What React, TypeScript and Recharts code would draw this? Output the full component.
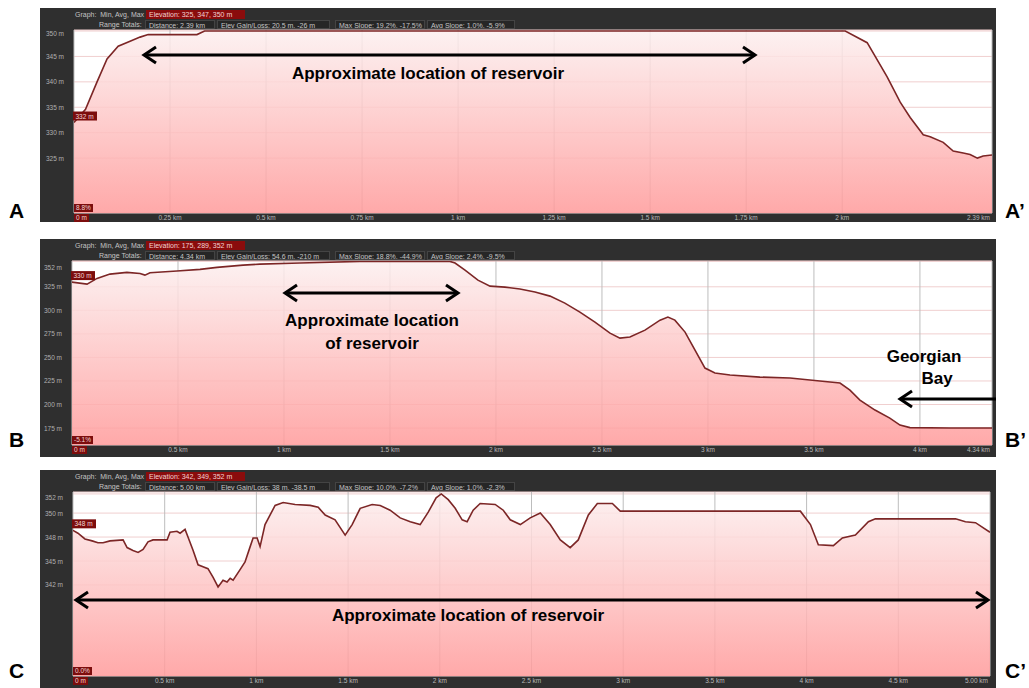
import React from 'react';
import { Area, AreaChart, CartesianGrid, ReferenceDot, XAxis, YAxis } from 'recharts';

// A - A' profile (distance in km, elevation in m)
const aDistKm = [0, 0.03, 0.06, 0.086, 0.115, 0.146, 0.172, 0.193, 0.32, 0.34, 0.7, 1.1, 1.5, 1.8, 2.008, 2.065, 2.117, 2.151, 2.177, 2.211, 2.229, 2.263, 2.289, 2.315, 2.333, 2.352, 2.367, 2.39];
const aElevM = [332, 334.6, 340, 344.5, 347, 348, 348.8, 349.3, 349.3, 350, 350, 350, 350, 350, 350, 347.7, 341, 336, 333, 329.6, 329.2, 328.1, 326.4, 326, 325.7, 325, 325.4, 325.6];
const aXTicks = [0.25, 0.5, 0.75, 1, 1.25, 1.5, 1.75, 2, 2.39];
const aXLabels = ['0.25 km', '0.5 km', '0.75 km', '1 km', '1.25 km', '1.5 km', '1.75 km', '2 km', '2.39 km'];
const aYTicks = [350, 345, 340, 335, 330, 325];
const aYLabels = ['350 m', '345 m', '340 m', '335 m', '330 m', '325 m'];
const aHeader = ['Elevation: 325, 347, 350 m', 'Distance: 2.39 km', 'Elev Gain/Loss: 20.5 m, -26 m', 'Max Slope: 19.2%, -17.5%', 'Avg Slope: 1.0%, -5.9%'];

// B - B' profile
const bDistKm = [0, 0.071, 0.118, 0.179, 0.259, 0.321, 0.344, 0.368, 0.495, 0.604, 0.684, 0.807, 0.887, 1.075, 1.358, 1.783, 1.807, 1.854, 1.915, 1.972, 2.042, 2.113, 2.184, 2.255, 2.325, 2.396, 2.467, 2.538, 2.585, 2.632, 2.703, 2.774, 2.811, 2.844, 2.892, 2.939, 2.986, 3.033, 3.104, 3.245, 3.387, 3.528, 3.623, 3.67, 3.717, 3.788, 3.858, 3.906, 3.953, 4.142, 4.34];
const bElevM = [330, 327.9, 333.9, 338.5, 340.3, 339.2, 337.4, 339.9, 341.7, 343.5, 345.6, 348, 349.1, 350.2, 352, 352, 350.2, 342.7, 332.1, 325.7, 324.7, 322.6, 319.4, 315.1, 307.7, 298.1, 287.5, 275.8, 270.5, 271.6, 279, 289.6, 292.8, 289.6, 276.9, 257.8, 238.7, 233.4, 231.3, 229.1, 228.1, 224.9, 222.8, 215.3, 204.7, 194.1, 185.6, 178.2, 175.5, 175, 175];
const bXTicks = [0.5, 1, 1.5, 2, 2.5, 3, 3.5, 4, 4.34];
const bXLabels = ['0.5 km', '1 km', '1.5 km', '2 km', '2.5 km', '3 km', '3.5 km', '4 km', '4.34 km'];
const bYTicks = [352, 325, 300, 275, 250, 225, 200, 175];
const bYLabels = ['352 m', '325 m', '300 m', '275 m', '250 m', '225 m', '200 m', '175 m'];
const bHeader = ['Elevation: 175, 289, 352 m', 'Distance: 4.34 km', 'Elev Gain/Loss: 54.6 m, -210 m', 'Max Slope: 18.8%, -44.9%', 'Avg Slope: 2.4%, -9.5%'];

// C - C' profile
const cDistKm = [0, 0.027, 0.065, 0.104, 0.136, 0.164, 0.202, 0.273, 0.295, 0.327, 0.355, 0.382, 0.409, 0.436, 0.513, 0.529, 0.567, 0.584, 0.611, 0.627, 0.655, 0.682, 0.709, 0.736, 0.764, 0.791, 0.818, 0.84, 0.857, 0.873, 0.911, 0.938, 0.966, 0.982, 1.004, 1.02, 1.047, 1.102, 1.146, 1.211, 1.293, 1.337, 1.375, 1.429, 1.484, 1.522, 1.566, 1.631, 1.675, 1.729, 1.784, 1.839, 1.893, 1.937, 1.98, 2.008, 2.046, 2.084, 2.122, 2.149, 2.182, 2.22, 2.302, 2.346, 2.384, 2.439, 2.493, 2.548, 2.602, 2.657, 2.711, 2.755, 2.81, 2.859, 2.941, 2.984, 3.966, 4.021, 4.064, 4.146, 4.195, 4.266, 4.337, 4.375, 4.812, 4.866, 4.921, 5];
const cElevM = [348.2, 347.9, 347.3, 347.1, 346.9, 346.9, 347.1, 347.2, 346.4, 346.1, 345.9, 346.2, 347, 347.2, 347.2, 348, 348.1, 347.9, 348.3, 347.5, 346.1, 344.6, 344.4, 344.2, 343.3, 342.3, 343, 342.8, 343.2, 343, 344.1, 344.9, 346.5, 347.4, 347.4, 346.5, 348.8, 350.8, 351.1, 350.9, 350.8, 350.6, 349.8, 349.3, 347.7, 348.8, 350.5, 350.9, 350.8, 350.3, 349.5, 349.1, 348.8, 350.1, 351.6, 352, 351.4, 350.5, 349.3, 349.1, 350.3, 351, 350.9, 350.3, 349.3, 348.8, 349.5, 350, 348.8, 347.2, 346.4, 347.2, 349.8, 351, 351, 350.2, 350.2, 348.8, 346.7, 346.6, 347.4, 347.7, 349.1, 349.4, 349.4, 349.1, 349, 348];
const cXTicks = [0.5, 1, 1.5, 2, 2.5, 3, 3.5, 4, 4.5, 5];
const cXLabels = ['0.5 km', '1 km', '1.5 km', '2 km', '2.5 km', '3 km', '3.5 km', '4 km', '4.5 km', '5.00 km'];
const cYTicks = [352, 350, 347.5, 345, 342.5];
const cYLabels = ['352 m', '350 m', '348 m', '345 m', '342 m'];
const cHeader = ['Elevation: 342, 349, 352 m', 'Distance: 5.00 km', 'Elev Gain/Loss: 38 m, -38.5 m', 'Max Slope: 10.0%, -7.2%', 'Avg Slope: 1.0%, -2.3%'];

const FRAME_L = 40;
const FRAME_R = 996;
const UI_FONT = '"Liberation Sans", Arial, sans-serif';

type PanelProps = {
  id: string;
  top: number;
  height: number;
  plotLeft: number;
  plotRight: number;
  axisHeight: number;
  dist: number[];
  elev: number[];
  xMax: number;
  xTicks: number[];
  xLabels: string[];
  yDomain: [number, number];
  yTicks: number[];
  yLabels: string[];
  topShift: number;
  header: string[];
  slope: string;
};

const HeaderBox = ({ left, width, text, red }: { left: number; width: number; text: string; red?: boolean }) => (
  <div
    style={{
      position: 'absolute',
      left,
      width,
      top: red ? 2 : 12,
      height: 9,
      lineHeight: '9px',
      paddingLeft: 3,
      boxSizing: 'border-box',
      background: red ? '#8a0c0c' : '#262626',
      border: red ? 'none' : '1px solid #444',
      color: red ? '#f3d2d2' : '#c4c4c4',
      whiteSpace: 'nowrap',
      overflow: 'hidden',
    }}
  >
    {text}
  </div>
);

const Tag = ({ left, top, text }: { left: number; top: number; text: string }) => (
  <div
    style={{
      position: 'absolute',
      left,
      top,
      height: 8,
      lineHeight: '8px',
      padding: '0 2px',
      background: '#7c0d0d',
      color: '#f1d4d4',
      fontSize: 6.5,
      whiteSpace: 'nowrap',
    }}
  >
    {text}
  </div>
);

const Panel = (p: PanelProps) => {
  const data = p.dist.map((km, i) => ({ km, elev: p.elev[i] }));
  const width = FRAME_R - FRAME_L;
  const plotBottom = p.height - p.axisHeight;
  const last = p.xTicks[p.xTicks.length - 1];

  return (
    <div
      style={{
        position: 'absolute',
        left: FRAME_L,
        top: p.top,
        width,
        height: p.height,
        background: '#2f2f2f',
        fontFamily: UI_FONT,
        fontSize: 7,
      }}
    >
      <div style={{ position: 'absolute', left: 35, top: 2, lineHeight: '9px', color: '#c4c4c4' }}>
        Graph:&nbsp; Min, Avg, Max
      </div>
      <HeaderBox left={106} width={99} text={p.header[0]} red />
      <div style={{ position: 'absolute', left: 59, top: 12, lineHeight: '9px', color: '#c4c4c4' }}>Range Totals:</div>
      <HeaderBox left={105} width={70} text={p.header[1]} />
      <HeaderBox left={177} width={113} text={p.header[2]} />
      <HeaderBox left={295} width={90} text={p.header[3]} />
      <HeaderBox left={387} width={88} text={p.header[4]} />

      <AreaChart
        width={width}
        height={p.height}
        data={data}
        margin={{ top: 22, right: FRAME_R - p.plotRight, bottom: 0, left: 0 }}
        style={{ position: 'absolute', left: 0, top: 0 }}
      >
        <defs>
          <linearGradient id={`fill-${p.id}`} x1="0" y1="0" x2="0" y2="1">
            <stop offset="0%" stopColor="#fcefef" stopOpacity={0.85} />
            <stop offset="100%" stopColor="#ff9a9a" stopOpacity={0.85} />
          </linearGradient>
        </defs>
        <CartesianGrid vertical={false} stroke="#f0cfcf" fill="#ffffff" />
        <CartesianGrid horizontal={false} stroke="#bdbdbd" />
        <XAxis
          type="number"
          dataKey="km"
          domain={[0, p.xMax]}
          ticks={p.xTicks}
          interval={0}
          height={p.axisHeight}
          axisLine={false}
          tickLine={false}
          tickSize={0}
          tickMargin={0}
          allowDataOverflow
          tick={(t: any) => {
            const i = p.xTicks.indexOf(t.payload.value);
            const isLast = t.payload.value === last;
            return (
              <text
                x={isLast ? t.x - 2 : t.x}
                y={t.y + 7}
                textAnchor={isLast ? 'end' : 'middle'}
                fontSize={6.5}
                fill="#b8b8b8"
                fontFamily={UI_FONT}
              >
                {p.xLabels[i]}
              </text>
            );
          }}
        />
        <YAxis
          type="number"
          domain={p.yDomain}
          ticks={p.yTicks}
          interval={0}
          width={p.plotLeft - FRAME_L}
          axisLine={false}
          tickLine={false}
          tickSize={0}
          tickMargin={10}
          allowDataOverflow
          tick={(t: any) => {
            const i = p.yTicks.indexOf(t.payload.value);
            return (
              <text
                x={t.x}
                y={t.y + 2.5 + (i === 0 ? p.topShift : 0)}
                textAnchor="end"
                fontSize={6.5}
                fill="#b0b0b0"
                fontFamily={UI_FONT}
              >
                {p.yLabels[i]}
              </text>
            );
          }}
        />
        <Area
          type="linear"
          dataKey="elev"
          stroke="#7c2626"
          strokeWidth={1.6}
          fill={`url(#fill-${p.id})`}
          fillOpacity={1}
          isAnimationActive={false}
        />
        <ReferenceDot
          x={p.dist[0]}
          y={p.elev[0]}
          r={0}
          shape={(s: any) => (
            <g>
              <rect x={s.cx - 1} y={s.cy - 11} width={24} height={9} fill="#7c0d0d" />
              <text x={s.cx + 1.5} y={s.cy - 4} fontSize={6.5} fill="#f1d4d4" fontFamily={UI_FONT}>
                {`${Math.round(p.elev[0])} m`}
              </text>
            </g>
          )}
        />
      </AreaChart>

      <Tag left={p.plotLeft - FRAME_L} top={plotBottom - 9} text={p.slope} />
      <Tag left={p.plotLeft - FRAME_L} top={plotBottom + 1} text="0 m" />
    </div>
  );
};

const Arrow = ({ x1, x2, y, head }: { x1: number; x2: number; y: number; head: 'both' | 'left' }) => (
  <g stroke="#000" strokeWidth={3} fill="none" strokeLinejoin="miter">
    <line x1={x1 + 1} y1={y} x2={head === 'both' ? x2 - 1 : x2} y2={y} />
    <polyline points={`${x1 + 13},${y - 8} ${x1 + 1},${y} ${x1 + 13},${y + 8}`} />
    {head === 'both' && <polyline points={`${x2 - 13},${y - 8} ${x2 - 1},${y} ${x2 - 13},${y + 8}`} />}
  </g>
);

const noteStyle = { fontFamily: UI_FONT, fontWeight: 700, fontSize: 17, fill: '#000' } as const;
const letterStyle = { fontFamily: UI_FONT, fontWeight: 700, fontSize: 21, fill: '#000' } as const;

export default function App() {
  return (
    <div style={{ position: 'absolute', left: 0, top: 0, width: 1029, height: 688, background: '#fff', overflow: 'hidden' }}>
      <Panel
        id="a"
        top={8}
        height={214}
        plotLeft={74}
        plotRight={992}
        axisHeight={9}
        dist={aDistKm}
        elev={aElevM}
        xMax={2.39}
        xTicks={aXTicks}
        xLabels={aXLabels}
        yDomain={[314.2, 350.2]}
        yTicks={aYTicks}
        yLabels={aYLabels}
        topShift={2}
        header={aHeader}
        slope="8.8%"
      />
      <Panel
        id="b"
        top={239}
        height={218}
        plotLeft={72}
        plotRight={992}
        axisHeight={12}
        dist={bDistKm}
        elev={bElevM}
        xMax={4.34}
        xTicks={bXTicks}
        xLabels={bXLabels}
        yDomain={[157, 352.4]}
        yTicks={bYTicks}
        yLabels={bYLabels}
        topShift={6}
        header={bHeader}
        slope="-5.1%"
      />
      <Panel
        id="c"
        top={470}
        height={218}
        plotLeft={73}
        plotRight={990}
        axisHeight={12}
        dist={cDistKm}
        elev={cElevM}
        xMax={5}
        xTicks={cXTicks}
        xLabels={cXLabels}
        yDomain={[333, 352.2]}
        yTicks={cYTicks}
        yLabels={cYLabels}
        topShift={4}
        header={cHeader}
        slope="0.0%"
      />

      <svg width={1029} height={688} style={{ position: 'absolute', left: 0, top: 0, pointerEvents: 'none' }}>
        <Arrow x1={143} x2={756} y={55} head="both" />
        <text x={428} y={79} textAnchor="middle" style={noteStyle}>Approximate location of reservoir</text>

        <Arrow x1={284} x2={459} y={293} head="both" />
        <text x={372} y={326} textAnchor="middle" style={noteStyle}>Approximate location</text>
        <text x={372} y={349} textAnchor="middle" style={noteStyle}>of reservoir</text>
        <text x={924} y={362} textAnchor="middle" style={noteStyle}>Georgian</text>
        <text x={937} y={384} textAnchor="middle" style={noteStyle}>Bay</text>
        <Arrow x1={899} x2={996} y={399} head="left" />

        <Arrow x1={75} x2={989} y={600} head="both" />
        <text x={468} y={621} textAnchor="middle" style={noteStyle}>Approximate location of reservoir</text>

        <text x={9} y={218} style={letterStyle}>A</text>
        <text x={1005} y={218} style={letterStyle}>A’</text>
        <text x={9} y={447} style={letterStyle}>B</text>
        <text x={1005} y={447} style={letterStyle}>B’</text>
        <text x={9} y={678} style={letterStyle}>C</text>
        <text x={1005} y={678} style={letterStyle}>C’</text>
      </svg>
    </div>
  );
}
